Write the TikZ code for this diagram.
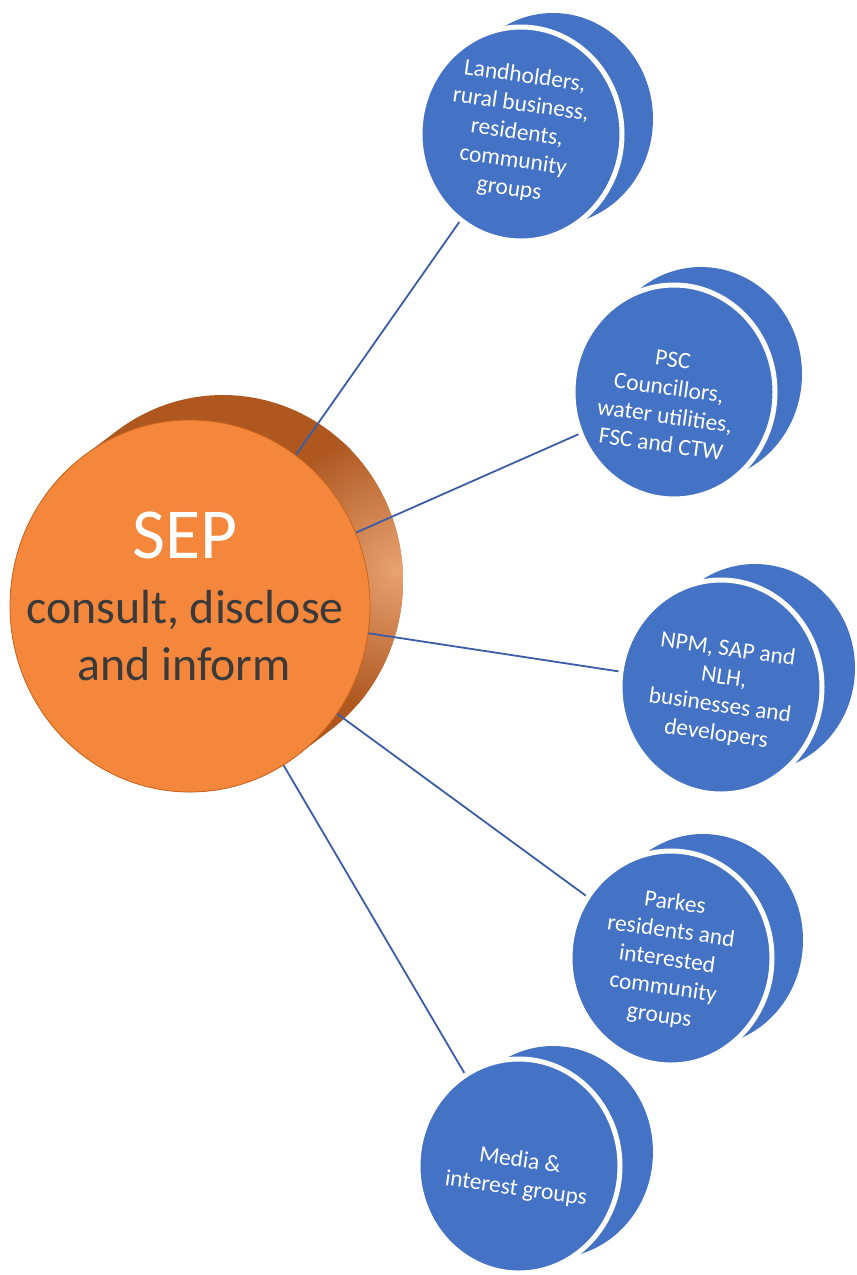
\documentclass[tikz,border=0pt]{standalone}
\usepackage{fontspec}
\setmainfont{Carlito}
\usetikzlibrary{shapes.geometric}
\pgfdeclarelayer{bg}
\pgfdeclarelayer{mid}
\pgfsetlayers{bg,mid,main}
\definecolor{sepfront}{HTML}{F4873B}
\definecolor{sepedge}{HTML}{C8641E}
\definecolor{sepside}{HTML}{AE5820}
\definecolor{sephigh}{HTML}{E9A271}
\definecolor{disc}{HTML}{4472C4}
\definecolor{link}{HTML}{3B5CA6}
\definecolor{septext}{HTML}{3A3A3A}
\begin{document}
\begin{tikzpicture}[x=1bp,y=-1bp,
  discback/.style={fill=disc},
  discfront/.style={ellipse, fill=disc, draw=white, line width=5bp, minimum width=202bp, minimum height=214bp, inner sep=0pt},
  disctext/.style={text=white, align=center, font=\fontsize{23.5}{28.5}\selectfont, rotate=-8},
  connector/.style={draw=link, line width=1.8bp},
  septxt/.style={text=septext, font=\fontsize{48}{56}\selectfont, anchor=base},
]
\useasboundingbox (0,0) rectangle (857,1275);

% SEP cylinder side
\begin{pgfonlayer}{bg}
  \fill[sepside] (296.3,756.1) arc[start angle=53.8, end angle=233.8, x radius=180, y radius=186]
     -- ++(33,-25) arc[start angle=233.8, end angle=413.8, x radius=180, y radius=186] -- cycle;
  \begin{scope}
    \clip (296.3,756.1) arc[start angle=53.8, end angle=233.8, x radius=180, y radius=186]
     -- ++(33,-25) arc[start angle=233.8, end angle=413.8, x radius=180, y radius=186] -- cycle;
    \shade[inner color=sephigh, outer color=sepside] (398,570) circle (140);
  \end{scope}
\end{pgfonlayer}

% SEP front
\node[ellipse, fill=sepfront, draw=sepedge, line width=0.8bp, minimum width=360bp, minimum height=372bp, inner sep=0pt] (sep) at (190,606) {};
\node[text=white, font=\fontsize{72}{80}\selectfont, anchor=base] (septitle) at (185,558) {SEP};
\node[septxt] (sepline1) at (185,623) {consult, disclose};
\node[septxt] (sepline2) at (184,680) {and inform};

% blue discs: back faces
\fill[discback] (553,119) ellipse [x radius=100, y radius=106];
\fill[discback] (701,374) ellipse [x radius=101, y radius=107];
\fill[discback] (755,668) ellipse [x radius=100, y radius=104];
\fill[discback] (703,940) ellipse [x radius=100, y radius=106];
\fill[discback] (553,1152) ellipse [x radius=100, y radius=106];

% blue discs: front faces
\node[discfront] (c1) at (521,134) {};
\node[discfront] (c2) at (674,392) {};
\node[discfront] (c3) at (721,687) {};
\node[discfront] (c4) at (671,958) {};
\node[discfront] (c5) at (519,1166) {};

\node[disctext] (t1) at (517,133) {Landholders,\\rural business,\\residents,\\community\\groups};
\node[disctext] (t2) at (667,402) {PSC\\Councillors,\\water utilities,\\FSC and CTW};
\node[disctext] (t3) at (722,692) {NPM, SAP and\\NLH,\\businesses and\\developers};
\node[disctext] (t4) at (667,960) {Parkes\\residents and\\interested\\community\\groups};
\node[disctext] (t5) at (518,1175) {Media \&\\interest groups};

% connectors
\begin{pgfonlayer}{mid}
  \draw[connector] (sep.center) -- (c1.center);
  \draw[connector] (sep.center) -- (c2.center);
  \draw[connector] (sep.center) -- (c3.center);
  \draw[connector] (sep.center) -- (c4.center);
  \draw[connector] (sep.center) -- (c5.center);
\end{pgfonlayer}
\end{tikzpicture}
\end{document}
